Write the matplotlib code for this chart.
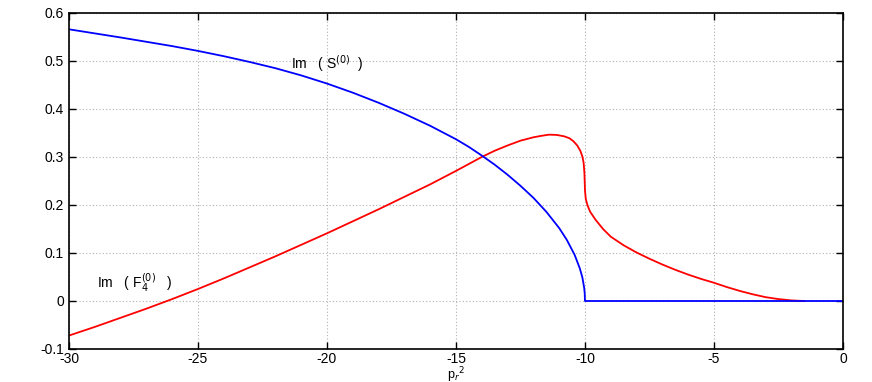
import matplotlib.pyplot as plt

plt.rcParams['font.family'] = ['Liberation Sans', 'DejaVu Sans']

# Im(S^(0)) - blue
s_x = [-30, -29, -28, -27, -26, -25, -24, -23, -22, -21, -20, -19, -18, -17,
       -16, -15, -14.5, -14, -13.5, -13, -12.5, -12, -11.5, -11, -10.7, -10.4,
       -10.2, -10.1, -10.03, -10.01, -10.0, 0]
s_y = [0.566, 0.5575, 0.549, 0.540, 0.531, 0.521, 0.510, 0.498, 0.485, 0.470,
       0.453, 0.434, 0.413, 0.390, 0.365, 0.337, 0.321, 0.303, 0.284, 0.263,
       0.240, 0.215, 0.186, 0.152, 0.127, 0.096, 0.068, 0.049, 0.027, 0.016,
       0.0, 0.0]

# Im(F4^(0)) - red
f_x = [-30, -29, -28, -27, -26, -25, -24, -23, -22, -21, -20, -19, -18, -17,
       -16, -15, -14, -13.5, -13, -12.5, -12, -11.7, -11.4, -11.1, -10.8, -10.6,
       -10.45, -10.3, -10.18, -10.1, -10.05, -10.02, -10.0, -9.97, -9.9, -9.8,
       -9.6, -9.3, -9.0, -8.5, -8.0, -7.5, -7.0, -6.5, -6.0, -5.5, -5.0, -4.5,
       -4.0, -3.5, -3.0, -2.5, -2.0, -1.5]
f_y = [-0.072, -0.054, -0.035, -0.016, 0.004, 0.025, 0.047, 0.070, 0.093, 0.117,
       0.141, 0.166, 0.191, 0.217, 0.243, 0.271, 0.300, 0.313, 0.324, 0.334,
       0.341, 0.344, 0.3465, 0.346, 0.343, 0.339, 0.333, 0.324, 0.313, 0.301,
       0.287, 0.265, 0.231, 0.213, 0.199, 0.186, 0.170, 0.150, 0.134, 0.116,
       0.101, 0.088, 0.076, 0.065, 0.055, 0.046, 0.038, 0.029, 0.021, 0.014,
       0.008, 0.004, 0.0012, 0.0]

xticks = [-30, -25, -20, -15, -10, -5, 0]
yticks = [-0.1, 0, 0.1, 0.2, 0.3, 0.4, 0.5, 0.6]
ylabels = ['-0.1', '0', '0.1', '0.2', '0.3', '0.4', '0.5', '0.6']

fig = plt.figure(figsize=(8.72, 3.82), dpi=100)
ax = fig.add_axes([0.0791, 0.0864, 0.8876, 0.8796])

ax.plot(f_x, f_y, color='red', lw=1.3)
ax.plot(s_x, s_y, color='blue', lw=1.3)

ax.set_xlim(-30, 0)
ax.set_ylim(-0.1, 0.6)
ax.set_xticks(xticks)
ax.set_xticklabels([str(t) for t in xticks])
ax.set_yticks(yticks)
ax.set_yticklabels(ylabels)
ax.tick_params(direction='in', top=True, right=True, labelsize=10, length=5, width=1)
ax.tick_params(axis='x', pad=2.5)
ax.grid(True, color='#b0b0b0', linestyle=(0, (1, 2)), lw=0.8)
for sp in ax.spines.values():
    sp.set_linewidth(1.2)

ax.text(-21.4, 0.494, r'Im   ( S$^{(0)}$  )', fontsize=10, va='center')
ax.text(-28.9, 0.037, r'Im   ( F$_4^{(0)}$   )', fontsize=10, va='center')
ax.set_xlabel(r'p$_r$$^2$', fontsize=9, labelpad=-1)

fig.savefig('out.png', dpi=100)
